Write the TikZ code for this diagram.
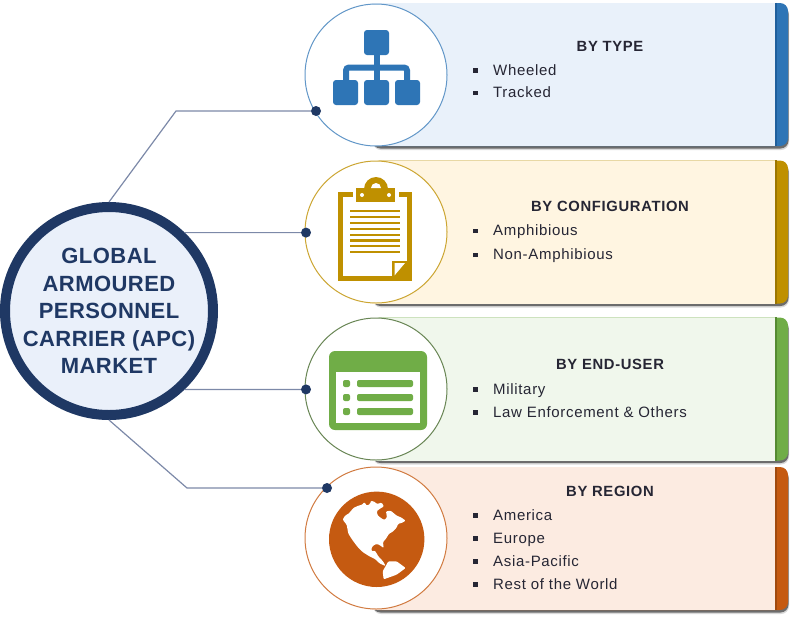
\documentclass[tikz,border=0pt]{standalone}
\usepackage{fontspec}
\setmainfont{Liberation Sans}
\newfontfamily\labelfont[LetterSpace=4.5]{Liberation Sans}
\newfontfamily\hubfont[LetterSpace=2]{Liberation Sans}
\usetikzlibrary{shadows}

\definecolor{navy}{HTML}{1F3864}
\definecolor{wire}{HTML}{7C89A8}
\definecolor{ink}{HTML}{262634}
\definecolor{hubfill}{HTML}{EAF0FA}
\definecolor{blueA}{HTML}{2E75B6}
\definecolor{blueB}{HTML}{E9F1FA}
\definecolor{blueC}{HTML}{1F5F9C}
\definecolor{goldA}{HTML}{BF9000}
\definecolor{goldB}{HTML}{FFF5E1}
\definecolor{goldC}{HTML}{9C7600}
\definecolor{greenA}{HTML}{70AD47}
\definecolor{greenB}{HTML}{F0F7EC}
\definecolor{greenC}{HTML}{558A32}
\definecolor{rustA}{HTML}{C55A11}
\definecolor{rustB}{HTML}{FCEBE1}
\definecolor{rustC}{HTML}{A04A0E}

\newcommand{\bul}{\makebox[20pt][l]{\rule[2.5pt]{4.5pt}{4.5pt}}}

\tikzset{
    panel/.style = {rectangle, rounded corners=8pt, minimum width=416pt, minimum height=143pt, inner sep=0,
        drop shadow={shadow xshift=1pt, shadow yshift=-4pt, fill=black, opacity=0.15},
        drop shadow={shadow xshift=0.5pt, shadow yshift=-2.5pt, fill=black, opacity=0.5}},
    body/.style = {rectangle, minimum width=404pt, minimum height=143pt, inner sep=0},
    ring/.style = {circle, draw, line width=1pt, fill=white, minimum size=142pt, inner sep=0},
    hub/.style = {circle, draw=navy, line width=10pt, fill=hubfill, minimum size=208pt, inner sep=0},
    hubtext/.style = {align=center, text=navy, inner sep=0, font=\fontsize{22}{27.5}\bfseries\hubfont},
    pin/.style = {circle, fill=navy, minimum size=10pt, inner sep=0},
    title/.style = {text=ink, anchor=base, inner sep=0, font=\fontsize{14.8}{15}\bfseries\labelfont},
    entry/.style = {text=ink, anchor=base west, inner sep=0, font=\fontsize{15}{15}\labelfont},
    wirepath/.style = {draw=wire, line width=1.2pt}
}

\begin{document}
\begin{tikzpicture}[x=1pt, y=-1pt]
    \useasboundingbox (0,0) rectangle (800,622);

    % panels
    \node[panel, fill=blueA] (panelA) at (580,74.5) {};
    \node[body, fill=blueB] (bodyA) at (574,74.5) {};
    \draw[blueC, line width=2pt] (bodyA.north east) -- (bodyA.south east);
    \node[panel, fill=goldA] (panelB) at (580,232) {};
    \node[body, fill=goldB] (bodyB) at (574,232) {};
    \draw[goldC, line width=2pt] (bodyB.north east) -- (bodyB.south east);
    \node[panel, fill=greenA] (panelC) at (580,389) {};
    \node[body, fill=greenB] (bodyC) at (574,389) {};
    \draw[greenC, line width=2pt] (bodyC.north east) -- (bodyC.south east);
    \node[panel, fill=rustA] (panelD) at (580,538.5) {};
    \node[body, fill=rustB] (bodyD) at (574,538.5) {};
    \draw[rustC, line width=2pt] (bodyD.north east) -- (bodyD.south east);

    % rings
    \node[ring, draw=blueA!75!white] (ringA) at (376,75) {};
    \node[ring, draw=goldA!80!white] (ringB) at (376,232) {};
    \node[ring, draw=greenA!60!black!80!white] (ringC) at (376,389) {};
    \node[ring, draw=rustA!80!white] (ringD) at (376,538) {};

    % hub and connectors
    \node[hub] (market) at (109,311) {};
    \node[hubtext] (marketT) at (109,311) {GLOBAL\\ARMOURED\\PERSONNEL\\CARRIER (APC)\\MARKET};
    \node[pin] (pinA) at (316,111) {};
    \node[pin] (pinB) at (306,232.6) {};
    \node[pin] (pinC) at (306,389.4) {};
    \node[pin] (pinD) at (327,488) {};
    \coordinate (bendA) at (176,111);
    \coordinate (bendD) at (187,488);
    \draw[wirepath] (market.90) -- (bendA) -- (pinA);
    \draw[wirepath] (market.46) -- (pinB);
    \draw[wirepath] (market.-46) -- (pinC);
    \draw[wirepath] (market.-90) -- (bendD) -- (pinD);

    % texts
    \node[title] (typeT) at (610,51) {BY TYPE};
    \node[entry] (typeA) at (473,75) {\bul Wheeled};
    \node[entry] (typeB) at (473,97.5) {\bul Tracked};

    \node[title] (confT) at (610,211) {BY CONFIGURATION};
    \node[entry] (confA) at (473,235.5) {\bul Amphibious};
    \node[entry] (confB) at (473,259.5) {\bul Non-Amphibious};

    \node[title] (userT) at (610,369) {BY END-USER};
    \node[entry] (userA) at (473,394) {\bul Military};
    \node[entry] (userB) at (473,417) {\bul Law Enforcement \& Others};

    \node[title] (regT) at (610,496) {BY REGION};
    \node[entry] (regA) at (473,520) {\bul America};
    \node[entry] (regB) at (473,543) {\bul Europe};
    \node[entry] (regC) at (473,566) {\bul Asia-Pacific};
    \node[entry] (regD) at (473,589) {\bul Rest of the World};

    % hierarchy icon
    \fill[blueA, rounded corners=3pt] (364,30) rectangle (389,55);
    \fill[blueA, rounded corners=3pt] (333,80) rectangle (358,105);
    \fill[blueA, rounded corners=3pt] (364,80) rectangle (389,105);
    \fill[blueA, rounded corners=3pt] (395,80) rectangle (420,105);
    \fill[blueA] (373.5,54) rectangle (379.5,81);
    \draw[blueA, line width=6pt, rounded corners=3pt] (346,81) -- (346,67.5) -- (407,67.5) -- (407,81);

    % clipboard icon
    \draw[goldA, line width=4.6pt] (353,194.5) -- (340.5,194.5) -- (340.5,278.5) -- (409.7,278.5) -- (409.7,194.5) -- (399,194.5);
    \fill[goldA] (356,188) rectangle (395,202);
    \fill[goldA] (364,189) arc[start angle=180, end angle=360, radius=12] -- cycle;
    \fill[white] (371,188) arc[start angle=180, end angle=360, radius=5] -- cycle;
    \fill[white] (362,195) circle[radius=2];
    \fill[white] (389,195) circle[radius=2];
    \foreach \rowy in {211,217,223,229,235,240.5,246,252} {
        \fill[goldA] (350,\rowy-1.2) rectangle (400,\rowy+1.2);
    }
    \fill[goldA] (392,261) rectangle (412,281);
    \fill[white] (394.5,263) -- (405,263) -- (394.5,275.5) -- cycle;

    % list window icon
    \fill[greenA, rounded corners=6pt] (329,351) rectangle (427,430);
    \fill[white] (336,372) rectangle (420,423);
    \foreach \rowy in {380,394,408} {
        \fill[greenA, rounded corners=2pt] (343,\rowy) rectangle (350,\rowy+7);
        \fill[greenA, rounded corners=2pt] (357,\rowy) rectangle (413,\rowy+7);
    }

    % globe icon
    \fill[rustA] (376.7,539.3) circle[radius=47.7];
    \begin{scope}[shift={(325,488)}, x=0.3333pt, y=-0.3333pt]
        \fill[white, rounded corners=1pt] (53,95) -- (60,83) -- (72,76) -- (85,60) -- (100,53) -- (112,50)
            -- (118,42) -- (125,53) -- (135,48) -- (138,38) -- (150,42) -- (155,48) -- (170,44) -- (177,55)
            -- (165,62) -- (155,70) -- (158,82) -- (168,90) -- (178,96) -- (186,88) -- (183,70) -- (197,68)
            -- (215,83) -- (228,88) -- (242,98) -- (230,105) -- (220,107) -- (214,120) -- (202,132) -- (192,137)
            -- (183,152) -- (174,162) -- (176,180) -- (168,174) -- (158,168) -- (148,170) -- (140,178)
            -- (140,190) -- (150,188) -- (160,205) -- (174,220) -- (182,234) -- (165,227) -- (150,213)
            -- (130,203) -- (113,192) -- (98,177) -- (83,157) -- (70,137) -- (65,110) -- cycle;
        \fill[white, rounded corners=1pt] (190,220) -- (215,220) -- (242,240) -- (215,260) -- (176,274)
            -- (173,250) -- cycle;
    \end{scope}
\end{tikzpicture}
\end{document}
